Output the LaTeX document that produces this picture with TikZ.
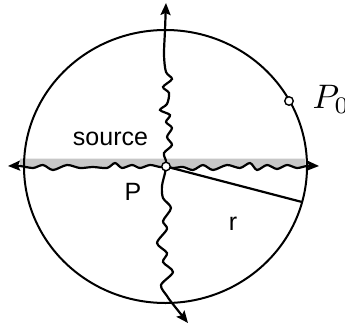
\documentclass[tikz,border=0pt]{standalone}
\usepackage{fontspec}
\newfontfamily\hv{Liberation Sans}
\usetikzlibrary{arrows.meta,shapes.geometric}
\begin{document}
\begin{tikzpicture}[x=1pt,y=-1pt,line width=2.2pt,
  wave/.style={line width=2.2pt,-{Stealth[length=12pt,width=10pt,inset=2pt]}},
  dot/.style={circle,draw,fill=white,line width=1.4pt,minimum size=8.5pt,inner sep=0pt},
  lab/.style={font=\hv,scale=2.5,inner sep=0pt,anchor=base},
  band/.style={fill=black!22}]
\useasboundingbox (0,0) rectangle (345,329);
% shaded band above the horizontal source line
\fill[band] (20,158.5) -- plot[smooth] coordinates {(20,166) (33,168) (43,165) (53,170) (67,165) (80,168) (93,167) (107,168) (115,163) (122,168) (132,165) (140,168) (150,165) (160,167) (166,166.5) (173,168) (183,167) (193,170) (203,165) (213,170) (227,165) (240,168) (250,163) (257,170) (267,165) (277,169) (287,165) (297,168) (305,166)} -- (305,158.5) -- cycle;
% circle
\node[ellipse,draw,line width=2pt,minimum width=283pt,minimum height=273pt,inner sep=0pt] (C) at (165.5,166.5) {};
% named points
\coordinate (Pc) at (166,166.5);
\coordinate (L) at (8,166);
\coordinate (R) at (319,166);
\coordinate (T) at (166,3);
\coordinate (B) at (188,323);
\coordinate (E) at (302,202);
% wavy source lines
\draw[wave] plot[smooth] coordinates {(Pc) (160,167) (150,165) (140,168) (132,165) (122,168) (115,163) (107,168) (93,167) (80,168) (67,165) (53,170) (43,165) (33,168) (20,166) (L)};
\draw[wave] plot[smooth] coordinates {(Pc) (173,168) (183,167) (193,170) (203,165) (213,170) (227,165) (240,168) (250,163) (257,170) (267,165) (277,169) (287,165) (297,168) (307,166) (R)};
\draw[wave] plot[smooth] coordinates {(Pc) (166,161) (164,153) (172,145) (167,137) (172,128) (166,122) (170,115) (160,110) (167,104) (169,93) (163,87) (172,79) (166,72) (164,55) (165,30) (T)};
\draw[wave] plot[smooth] coordinates {(Pc) (165,173) (162,186) (163,198) (171,208) (163,221) (167,229) (157,243) (167,253) (163,262) (173,272) (161,285) (167,296) (172,303) (B)};
% radius
\draw (Pc) -- (E);
% points
\node[dot] (P) at (Pc) {};
\node[dot] (P0) at (289,101) {};
% labels
\node[lab] (src) at (110.5,145) {source};
\node[lab] (Plab) at (133,200) {P};
\node[lab] (rlab) at (233,230) {r};
\node[scale=3.4,inner sep=0pt,anchor=base west] (P0lab) at (309,108) {$P_0$};
\end{tikzpicture}
\end{document}
